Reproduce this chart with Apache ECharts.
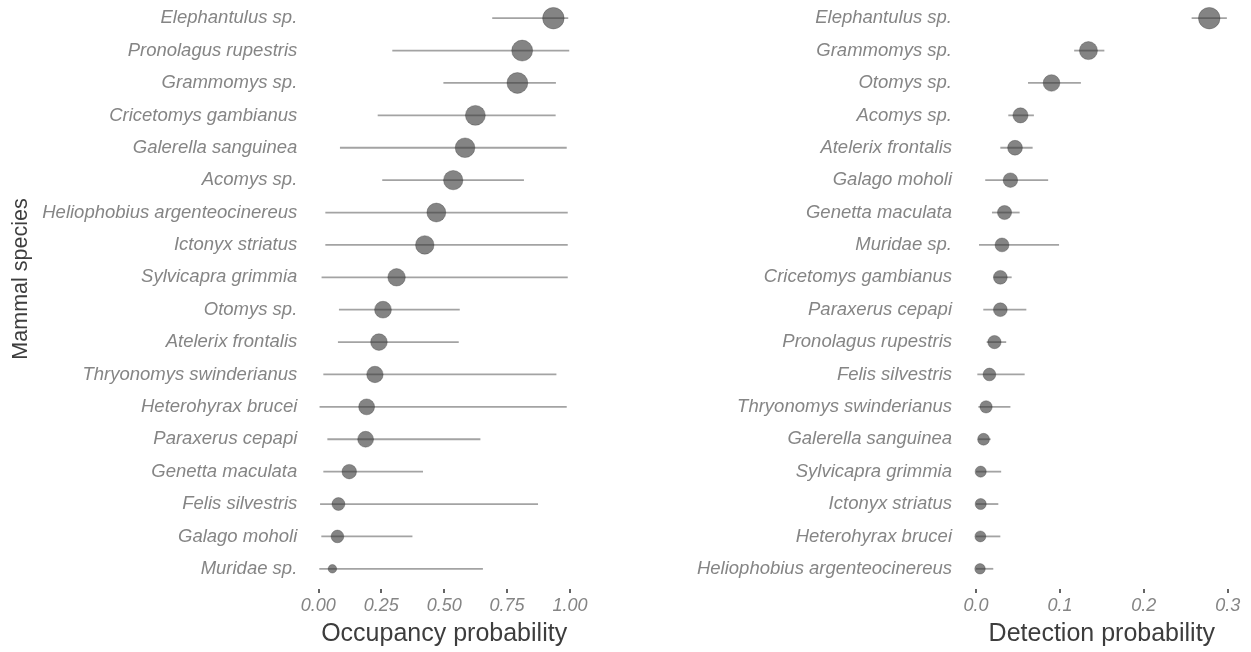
<!DOCTYPE html>
<html>
<head>
<meta charset="utf-8">
<script src="https://cdn.jsdelivr.net/npm/echarts@6/dist/echarts.min.js"></script>
<style>
  html, body { margin: 0; padding: 0; background: #ffffff; }
  #chart { width: 1251px; height: 652px; }
</style>
</head>
<body>
<div id="chart"></div>
<script>
// Occupancy probability per species (posterior mean with 95% interval), top to bottom
const occSpecies = ["Elephantulus sp.", "Pronolagus rupestris", "Grammomys sp.", "Cricetomys gambianus",
  "Galerella sanguinea", "Acomys sp.", "Heliophobius argenteocinereus", "Ictonyx striatus",
  "Sylvicapra grimmia", "Otomys sp.", "Atelerix frontalis", "Thryonomys swinderianus",
  "Heterohyrax brucei", "Paraxerus cepapi", "Genetta maculata", "Felis silvestris",
  "Galago moholi", "Muridae sp."];
const occMean  = [0.934, 0.810, 0.791, 0.624, 0.583, 0.536, 0.469, 0.423, 0.311, 0.257, 0.241, 0.225, 0.192, 0.188, 0.123, 0.080, 0.076, 0.056];
const occLower = [0.691, 0.294, 0.497, 0.236, 0.086, 0.254, 0.028, 0.028, 0.013, 0.082, 0.078, 0.020, 0.005, 0.036, 0.020, 0.007, 0.012, 0.004];
const occUpper = [0.993, 0.997, 0.944, 0.943, 0.987, 0.817, 0.991, 0.991, 0.991, 0.562, 0.558, 0.946, 0.987, 0.644, 0.416, 0.873, 0.374, 0.654];
const occTicks = ["0.00", "0.25", "0.50", "0.75", "1.00"];

// Detection probability per species, top to bottom
const detSpecies = ["Elephantulus sp.", "Grammomys sp.", "Otomys sp.", "Acomys sp.",
  "Atelerix frontalis", "Galago moholi", "Genetta maculata", "Muridae sp.",
  "Cricetomys gambianus", "Paraxerus cepapi", "Pronolagus rupestris", "Felis silvestris",
  "Thryonomys swinderianus", "Galerella sanguinea", "Sylvicapra grimmia", "Ictonyx striatus",
  "Heterohyrax brucei", "Heliophobius argenteocinereus"];
const detMean  = [0.278, 0.134, 0.090, 0.053, 0.0465, 0.041, 0.034, 0.031, 0.029, 0.029, 0.022, 0.016, 0.012, 0.009, 0.0056, 0.0056, 0.0052, 0.0048];
const detLower = [0.257, 0.117, 0.062, 0.0385, 0.029, 0.011, 0.019, 0.0036, 0.021, 0.0087, 0.0127, 0.0016, 0.0028, 0.0028, 0.0, 0.0, 0.0, 0.0];
const detUpper = [0.299, 0.153, 0.125, 0.069, 0.0675, 0.086, 0.052, 0.099, 0.0425, 0.060, 0.036, 0.058, 0.041, 0.0175, 0.030, 0.0266, 0.029, 0.0206];
const detTicks = ["0.0", "0.1", "0.2", "0.3"];

const FONT = "'Liberation Sans', Arial, Helvetica, sans-serif";
const LABEL_GREY = '#858585';
const TITLE_GREY = '#3d3d3d';
const POINT_FILL = 'rgba(58,58,58,0.78)';
const BAR_GREY = '#a3a3a3';

// point diameter grows with the estimate, scaled within each panel
function sizeScale(values, dMin, dMax, power) {
  const lo = Math.min.apply(null, values), hi = Math.max.apply(null, values);
  return function (v) {
    const f = (v - lo) / (hi - lo);
    return dMin + (dMax - dMin) * Math.pow(f, power);
  };
}
const occSize = sizeScale(occMean, 8.5, 21.5, 0.3);
const detSize = sizeScale(detMean, 10.5, 21.5, 0.5);

const gridTop = 2, gridHeight = 585.5, plotWidth = 251.7;

function intervalSeries(axisIdx, lower, upper) {
  return {
    type: 'custom',
    xAxisIndex: axisIdx, yAxisIndex: axisIdx,
    clip: false, silent: true, z: 1,
    encode: { x: [0, 1], y: 2 },
    data: lower.map((lo, i) => [lo, upper[i], i]),
    renderItem: function (params, api) {
      const a = api.coord([api.value(0), api.value(2)]);
      const b = api.coord([api.value(1), api.value(2)]);
      return {
        type: 'line',
        shape: { x1: a[0], y1: a[1], x2: b[0], y2: b[1] },
        style: { stroke: BAR_GREY, lineWidth: 1.8 }
      };
    }
  };
}

function pointSeries(axisIdx, means, sizer) {
  return {
    type: 'scatter',
    xAxisIndex: axisIdx, yAxisIndex: axisIdx,
    clip: false, silent: true, z: 3,
    data: means.map((m, i) => [m, i]),
    symbol: 'circle',
    symbolSize: function (d) { return sizer(d[0]); },
    itemStyle: { color: POINT_FILL, borderColor: 'rgba(50,50,50,0.5)', borderWidth: 0.8 }
  };
}

function yCat(names, margin) {
  return {
    type: 'category', data: names, inverse: true, boundaryGap: true,
    axisLine: { show: false }, axisTick: { show: false }, splitLine: { show: false },
    axisLabel: { margin: margin, color: LABEL_GREY, fontStyle: 'italic', fontSize: 18.5, fontFamily: FONT }
  };
}

function xVal(gridIdx, max, interval, ticks, name) {
  return {
    type: 'value', gridIndex: gridIdx, min: 0, max: max, interval: interval,
    offset: 4,
    axisLine: { show: false },
    axisTick: { show: true, length: 4, lineStyle: { color: '#333333', width: 1.5 } },
    splitLine: { show: false },
    axisLabel: {
      margin: 8, color: LABEL_GREY, fontStyle: 'italic', fontSize: 18, fontFamily: FONT,
      formatter: function (v) { return ticks[Math.round(v / interval)]; }
    },
    name: name, nameLocation: 'middle', nameGap: 33,
    nameTextStyle: { color: TITLE_GREY, fontSize: 25, fontFamily: FONT }
  };
}

const chart = echarts.init(document.getElementById('chart'), null, { renderer: 'canvas' });
chart.setOption({
  animation: false,
  backgroundColor: '#ffffff',
  grid: [
    { left: 318.3, top: gridTop, width: plotWidth, height: gridHeight },
    { left: 976, top: gridTop, width: plotWidth, height: gridHeight }
  ],
  xAxis: [
    xVal(0, 1, 0.25, occTicks, 'Occupancy probability'),
    xVal(1, 0.3, 0.1, detTicks, 'Detection probability')
  ],
  yAxis: [
    Object.assign(yCat(occSpecies, 21), { gridIndex: 0 }),
    Object.assign(yCat(detSpecies, 24), { gridIndex: 1 })
  ],
  graphic: [{
    type: 'text', x: 21, y: 279, rotation: Math.PI / 2,
    style: { text: 'Mammal species', fill: TITLE_GREY, fontSize: 21.5, fontFamily: FONT, align: 'center', verticalAlign: 'middle' }
  }],
  series: [
    intervalSeries(0, occLower, occUpper),
    pointSeries(0, occMean, occSize),
    intervalSeries(1, detLower, detUpper),
    pointSeries(1, detMean, detSize)
  ]
});
</script>
</body>
</html>
